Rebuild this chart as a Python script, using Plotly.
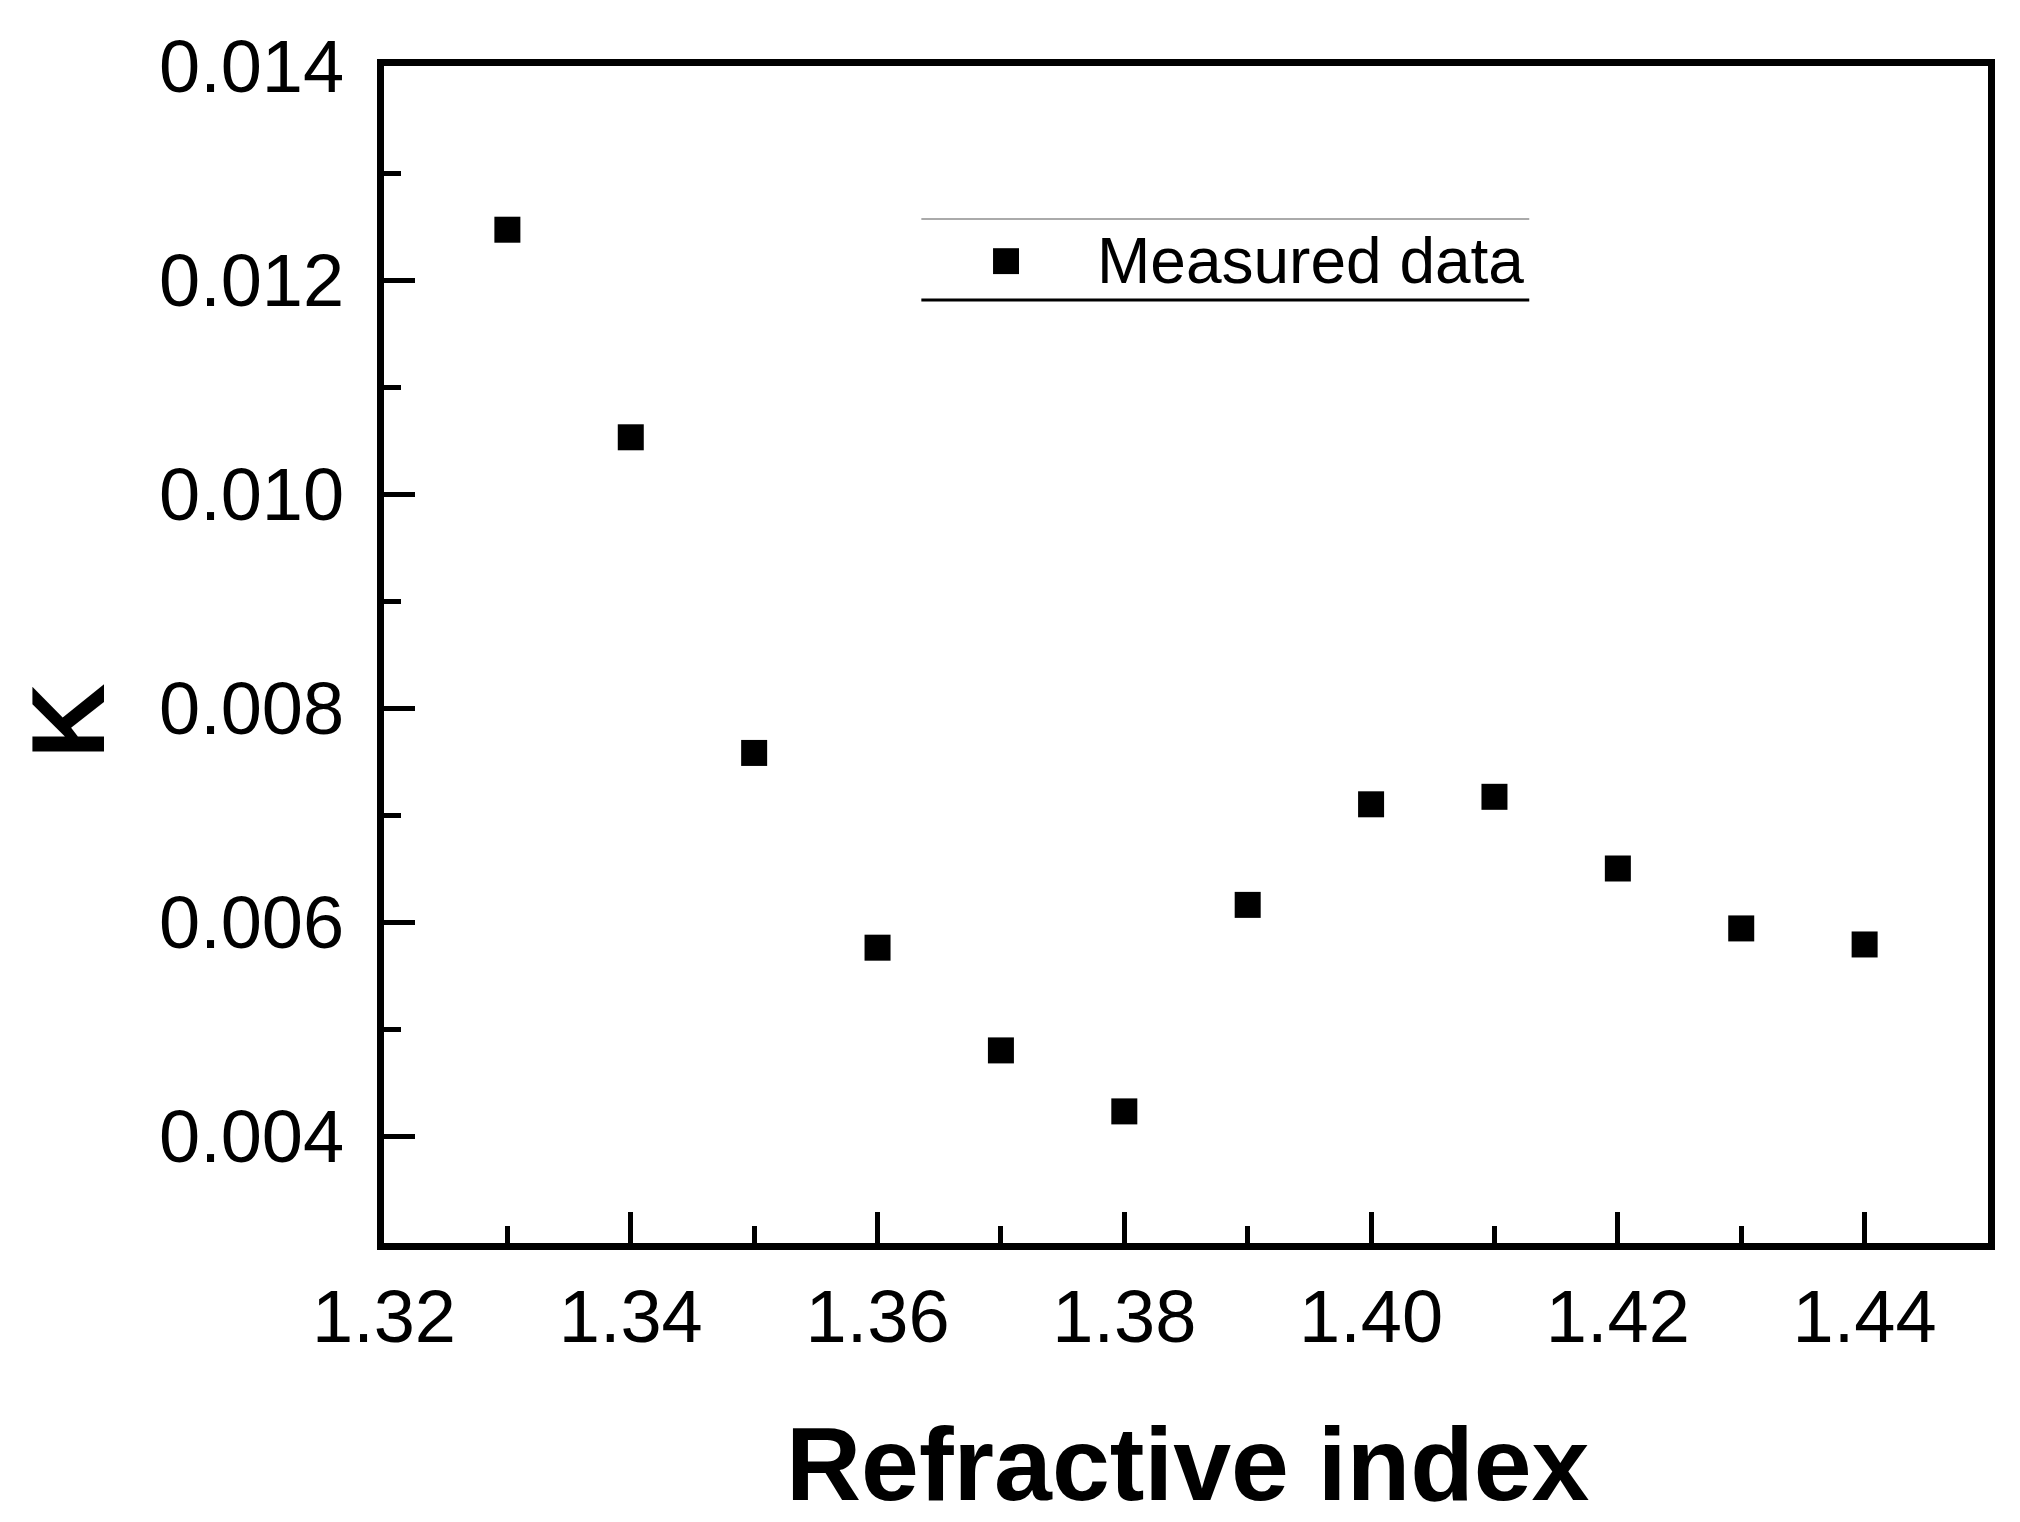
import plotly.graph_objects as go

# refractive index of the liquid and the measured K value
indice = [1.33, 1.34, 1.35, 1.36, 1.37, 1.38, 1.39, 1.40, 1.41, 1.42, 1.43, 1.44]
k_medido = [0.01247, 0.01053, 0.00758, 0.00576, 0.00480, 0.00423,
            0.00616, 0.00710, 0.00717, 0.00650, 0.00594, 0.00579]

x_ticks = [1.32, 1.34, 1.36, 1.38, 1.40, 1.42, 1.44]
y_ticks = [0.004, 0.006, 0.008, 0.010, 0.012, 0.014]

leyenda = 'Measured data'
titulo_x = 'Refractive index'
titulo_y = 'K'

fuente = 'Liberation Sans, Arial, sans-serif'

fig = go.Figure()

fig.add_trace(go.Scatter(
    x=indice,
    y=k_medido,
    mode='markers',
    name=leyenda,
    marker=dict(symbol='square', size=26, color='black'),
    showlegend=False,
))

eje = dict(
    showgrid=False,
    zeroline=False,
    showline=True,
    linecolor='black',
    linewidth=7,
    mirror=True,
    ticks='inside',
    ticklen=31,
    tickwidth=5,
    tickcolor='black',
    tickfont=dict(size=74, color='black', family=fuente),
)

# legend drawn by hand: the original one only has a top and bottom rule
# and a bigger marker than plotly's legend allows
fig.add_shape(type='line', xref='paper', yref='paper', x0=0.335, x1=0.714, y0=0.870, y1=0.870,
              line=dict(color='#aaaaaa', width=2))
fig.add_shape(type='line', xref='paper', yref='paper', x0=0.335, x1=0.714, y0=0.8012, y1=0.8012,
              line=dict(color='black', width=3))
fig.add_shape(type='rect', xref='paper', yref='paper', x0=0.3797, x1=0.3959, y0=0.8232, y1=0.8452,
              line=dict(width=0), fillcolor='black')
fig.add_annotation(text=leyenda, xref='paper', yref='paper', x=0.443, y=0.834,
                   xanchor='left', yanchor='middle', showarrow=False,
                   font=dict(size=64, color='black', family=fuente))

# axis titles
fig.add_annotation(text='<b>' + titulo_x + '</b>', xref='paper', yref='paper', x=0.501, y=-0.188,
                   xanchor='center', yanchor='middle', showarrow=False,
                   font=dict(size=104, color='black', family=fuente))
fig.add_annotation(text='<b>' + titulo_y + '</b>', xref='paper', yref='paper', x=-0.197, y=0.443,
                   xanchor='center', yanchor='middle', showarrow=False, textangle=-90,
                   font=dict(size=104, color='black', family=fuente))

fig.update_layout(
    width=2020,
    height=1522,
    margin=dict(l=376, r=40, t=58, b=287),
    paper_bgcolor='white',
    plot_bgcolor='white',
    font=dict(family=fuente, color='black'),
    showlegend=False,
    xaxis=dict(
        eje,
        range=[1.32, 1.45],
        tickvals=x_ticks,
        ticktext=['%.2f' % v for v in x_ticks],
        ticklabelstandoff=3,
        minor=dict(dtick=0.01, tick0=1.32, ticks='inside', ticklen=17, tickwidth=5, tickcolor='black'),
    ),
    yaxis=dict(
        eje,
        range=[0.003, 0.014],
        tickvals=y_ticks,
        ticktext=['%.3f' % v for v in y_ticks],
        ticklabelstandoff=18,
        minor=dict(dtick=0.001, tick0=0.003, ticks='inside', ticklen=17, tickwidth=5, tickcolor='black'),
    ),
)

fig.write_html("out.html")
